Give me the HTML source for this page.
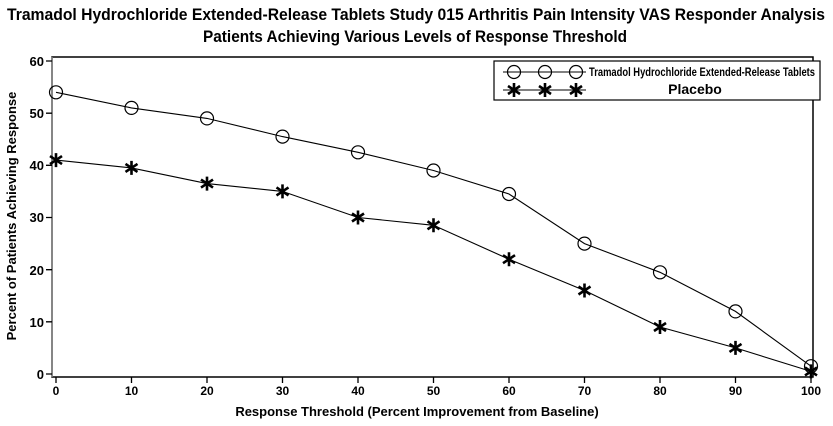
<!DOCTYPE html>
<html><head><meta charset="utf-8"><style>html,body{margin:0;padding:0;background:#fff}svg{display:block}</style></head>
<body>
<svg width="833" height="426" viewBox="0 0 833 426" xmlns="http://www.w3.org/2000/svg" font-family="'Liberation Sans Narrow','Liberation Sans',sans-serif" font-weight="bold">
<defs>
<g id="st"><path d="M0,-7V7M-6,-4L6,4M-6,4L6,-4" stroke="#000" stroke-width="2.6" fill="none"/></g>
<circle id="ci" r="6.5" fill="none" stroke="#000" stroke-width="1.2"/>
</defs>
<text x="416" y="20" font-size="17" text-anchor="middle" textLength="818" lengthAdjust="spacingAndGlyphs">Tramadol Hydrochloride Extended-Release Tablets Study 015 Arthritis Pain Intensity VAS Responder Analysis</text>
<text x="415" y="42" font-size="17" text-anchor="middle" textLength="424" lengthAdjust="spacingAndGlyphs">Patients Achieving Various Levels of Response Threshold</text>
<!-- frame -->
<path d="M52,57H813V377H52Z" fill="none" stroke="#000" stroke-width="1.5"/>
<path d="M52,57V377" stroke="#888" stroke-width="1.5"/>
<!-- y ticks -->
<g stroke="#000" stroke-width="1.3">
<path d="M46,374H52M46,321.8H52M46,269.7H52M46,217.5H52M46,165.3H52M46,113.2H52M46,61H52"/>
<path d="M56,377V383M131.5,377V383M207,377V383M282.5,377V383M358,377V383M433.5,377V383M509,377V383M584.5,377V383M660,377V383M735.5,377V383M811,377V383"/>
</g>
<g font-size="13" font-family="'Liberation Sans',sans-serif" text-anchor="end">
<text x="44" y="379">0</text><text x="44" y="327">10</text><text x="44" y="275">20</text><text x="44" y="222">30</text><text x="44" y="170">40</text><text x="44" y="118">50</text><text x="44" y="66">60</text>
</g>
<g font-size="12" font-family="'Liberation Sans',sans-serif" text-anchor="middle">
<text x="56" y="395">0</text><text x="131.5" y="395">10</text><text x="207" y="395">20</text><text x="282.5" y="395">30</text><text x="358" y="395">40</text><text x="433.5" y="395">50</text><text x="509" y="395">60</text><text x="584.5" y="395">70</text><text x="660" y="395">80</text><text x="735.5" y="395">90</text><text x="811" y="395">100</text>
</g>
<text x="417" y="416" font-size="13" font-family="'Liberation Sans',sans-serif" text-anchor="middle">Response Threshold (Percent Improvement from Baseline)</text>
<text transform="translate(16,216) rotate(-90)" font-size="13" font-family="'Liberation Sans',sans-serif" text-anchor="middle">Percent of Patients Achieving Response</text>
<!-- series -->
<polyline fill="none" stroke="#000" stroke-width="1.1" points="56,92.3 131.5,107.9 207,118.4 282.5,136.6 358,152.3 433.5,170.5 509,194 584.5,243.6 660,272.3 735.5,311.4 811,366.2"/>
<polyline fill="none" stroke="#000" stroke-width="1.1" points="56,160.1 131.5,167.9 207,183.6 282.5,191.4 358,217.5 433.5,225.3 509,259.2 584.5,290.5 660,327 735.5,347.9 811,371.4"/>
<g>
<use href="#ci" x="56" y="92.3"/><use href="#ci" x="131.5" y="107.9"/><use href="#ci" x="207" y="118.4"/><use href="#ci" x="282.5" y="136.6"/><use href="#ci" x="358" y="152.3"/><use href="#ci" x="433.5" y="170.5"/><use href="#ci" x="509" y="194"/><use href="#ci" x="584.5" y="243.6"/><use href="#ci" x="660" y="272.3"/><use href="#ci" x="735.5" y="311.4"/><use href="#ci" x="811" y="366.2"/>
<use href="#st" x="56" y="160.1"/><use href="#st" x="131.5" y="167.9"/><use href="#st" x="207" y="183.6"/><use href="#st" x="282.5" y="191.4"/><use href="#st" x="358" y="217.5"/><use href="#st" x="433.5" y="225.3"/><use href="#st" x="509" y="259.2"/><use href="#st" x="584.5" y="290.5"/><use href="#st" x="660" y="327"/><use href="#st" x="735.5" y="347.9"/><use href="#st" x="811" y="371.4"/>
</g>
<!-- legend -->
<rect x="494" y="61" width="326" height="39" fill="#fff" stroke="#000" stroke-width="1.2"/>
<path d="M503,72H586M503,90H586" stroke="#000" stroke-width="1.1"/>
<use href="#ci" x="514" y="72"/><use href="#ci" x="545" y="72"/><use href="#ci" x="576" y="72"/>
<use href="#st" x="514" y="90"/><use href="#st" x="545" y="90"/><use href="#st" x="576" y="90"/>
<text x="589" y="76" font-size="12" textLength="226" lengthAdjust="spacingAndGlyphs">Tramadol Hydrochloride Extended-Release Tablets</text>
<text x="695" y="94" font-size="14" text-anchor="middle">Placebo</text>
</svg>
</body></html>
